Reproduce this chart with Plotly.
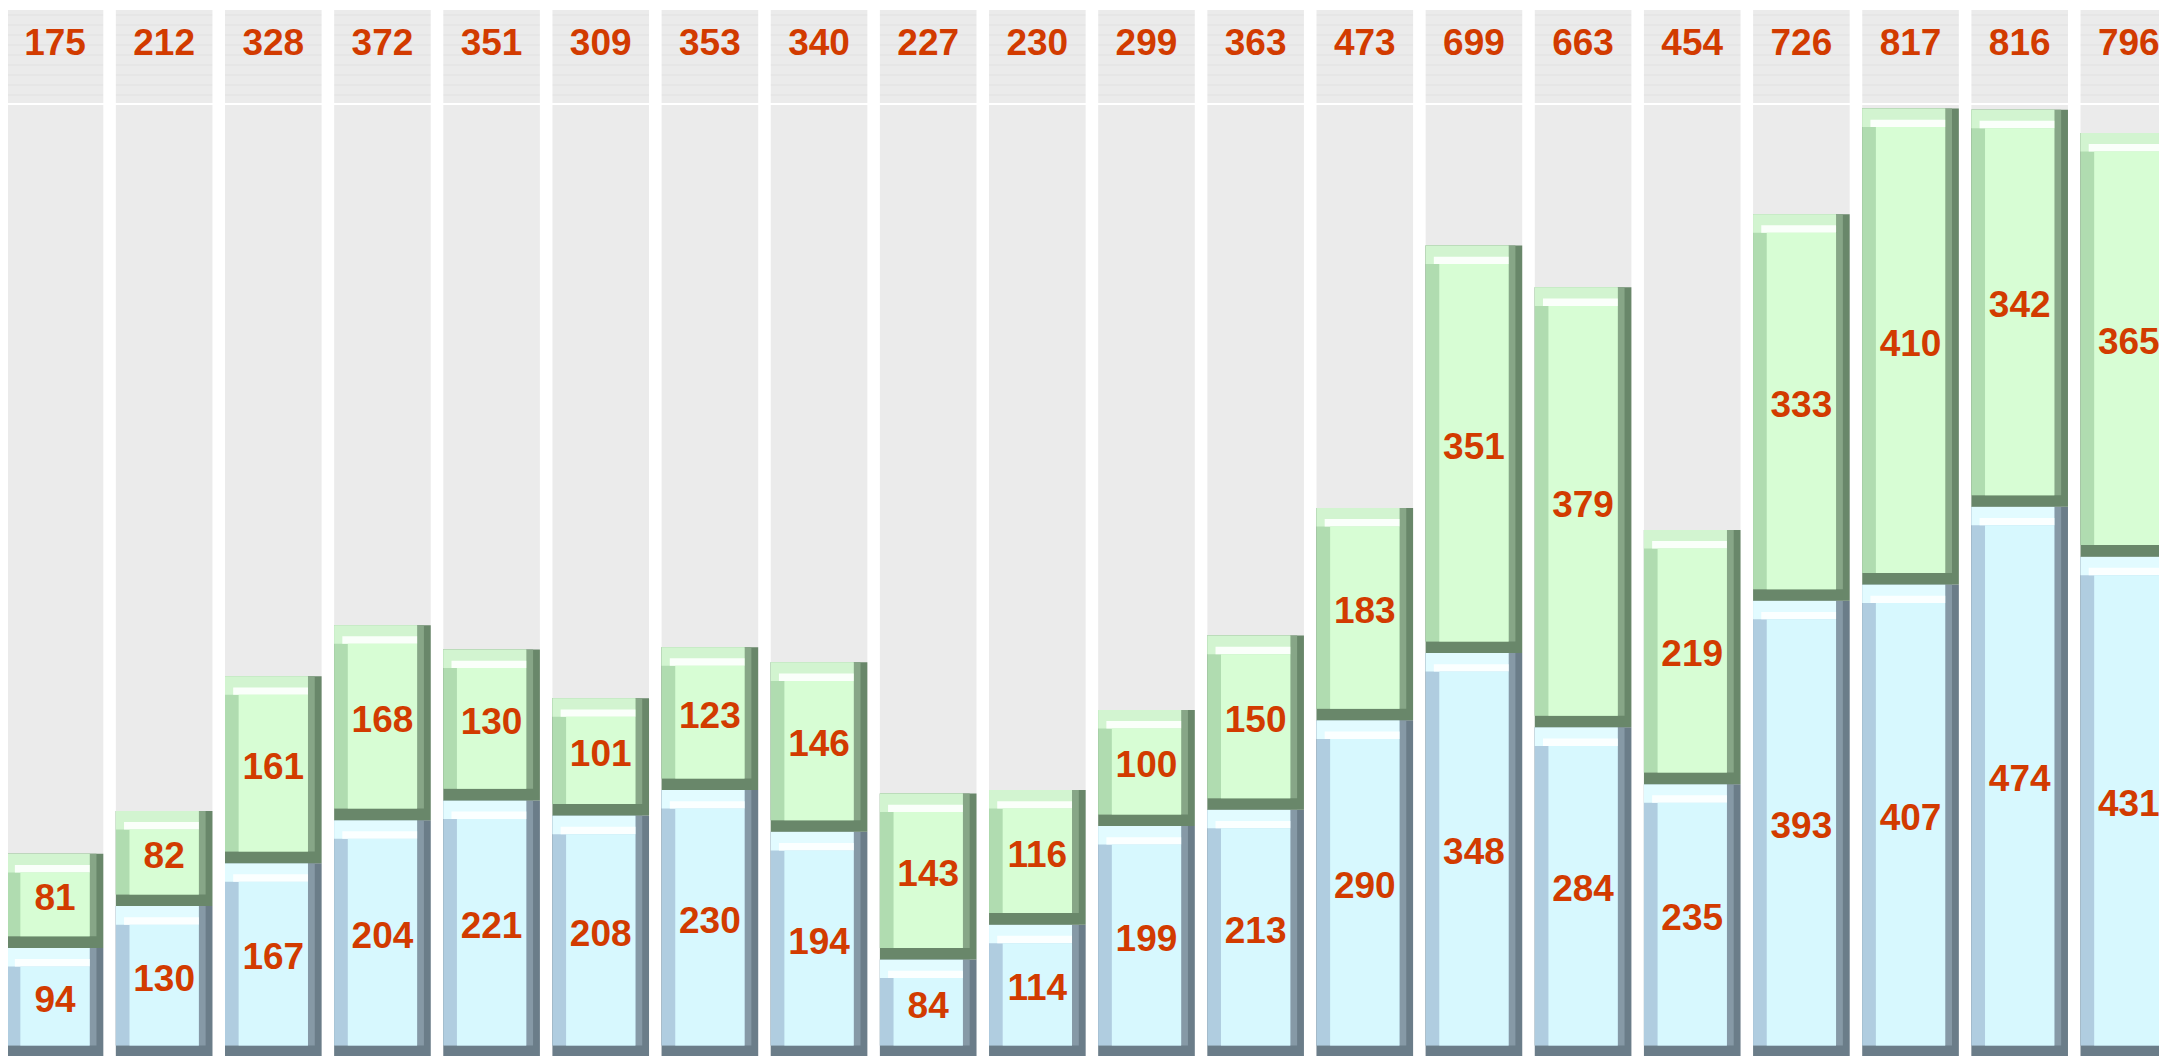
import plotly.graph_objects as go

# Data
periods = [str(i + 1) for i in range(20)]
lower_vals = [94, 130, 167, 204, 221, 208, 230, 194, 84, 114, 199, 213, 290, 348, 284, 235, 393, 407, 474, 431]
upper_vals = [81, 82, 161, 168, 130, 101, 123, 146, 143, 116, 100, 150, 183, 351, 379, 219, 333, 410, 342, 365]
totals = [175, 212, 328, 372, 351, 309, 353, 340, 227, 230, 299, 363, 473, 699, 663, 454, 726, 817, 816, 796]

panel_top = 820
label_color = '#d23b00'
label_font = dict(family='Liberation Sans, Arial', size=37, color=label_color, weight='bold')

# bar geometry (category units / value units)
W = 0.885
SIDE = 0.125
TOP_B = 16
BOT_B = 10

blue = dict(dark='#6b7d89', mid='#8699a6', left='#b0cde0', top='#e2fbff', shine='#fbffff', face='#d7f8fe')
green = dict(dark='#69876a', mid='#87a687', left='#b0dcb0', top='#d2f4d0', shine='#fafffa', face='#d7fdd4')


def bevel_bar(fig, vals, bases, pal):
    tops = [b + v for b, v in zip(bases, vals)]
    inner_base = [b + BOT_B for b in bases]
    inner_h = [v - BOT_B for v in vals]

    def layer(y, base, width, offset, color):
        fig.add_trace(go.Bar(x=periods, y=y, base=base, width=width, offset=offset,
                             marker=dict(color=color, line_width=0), hoverinfo='skip'))

    # full segment in the darkest shade (bottom + right edges)
    layer(vals, bases, W, -W / 2, pal['dark'])
    # inner part of right bevel
    layer(inner_h, inner_base, W - SIDE * 0.5, -W / 2, pal['mid'])
    # left bevel
    layer(inner_h, inner_base, W - SIDE, -W / 2, pal['left'])
    # top bevel + shine band
    layer([TOP_B] * len(vals), [t - TOP_B for t in tops], W - SIDE, -W / 2, pal['top'])
    layer([TOP_B * 0.4] * len(vals), [t - TOP_B for t in tops], W - SIDE * 1.6, -W / 2 + SIDE * 0.6, pal['shine'])
    # face
    layer([v - BOT_B - TOP_B for v in vals], inner_base, W - 2 * SIDE, -W / 2 + SIDE, pal['face'])
    # value labels
    fig.add_trace(go.Scatter(x=periods, y=[b + v / 2 for b, v in zip(bases, vals)],
                             mode='text', text=[str(v) for v in vals],
                             textfont=label_font, hoverinfo='skip'))


fig = go.Figure()

# gray panels behind the bars
fig.add_trace(go.Bar(x=periods, y=[panel_top] * len(periods), width=W, offset=-W / 2,
                     marker=dict(color='#ebebeb', line_width=0), hoverinfo='skip'))

bevel_bar(fig, lower_vals, [0] * len(lower_vals), blue)
bevel_bar(fig, upper_vals, lower_vals, green)

# header strip with totals
fig.add_trace(go.Bar(x=periods, y=[1] * len(periods), width=W, offset=-W / 2,
                     xaxis='x2', yaxis='y2',
                     marker=dict(color='#ebebeb', line_width=0,
                                 pattern=dict(shape='-', size=10, solidity=0.12,
                                              fgcolor='#d9d9d9', bgcolor='#ebebeb')),
                     hoverinfo='skip'))
fig.add_trace(go.Scatter(x=periods, y=[0.62] * len(periods), mode='text',
                         text=[str(t) for t in totals], textfont=label_font,
                         xaxis='x2', yaxis='y2', hoverinfo='skip'))

xr = [-0.4306, 19.423]
fig.update_layout(
    width=2167, height=1056,
    margin=dict(l=0, r=0, t=0, b=0),
    paper_bgcolor='white', plot_bgcolor='white',
    barmode='overlay', showlegend=False,
    xaxis=dict(range=xr, domain=[0, 1], visible=False, fixedrange=True),
    yaxis=dict(range=[0, panel_top], domain=[0.0066, 0.9081], visible=False, fixedrange=True),
    xaxis2=dict(range=xr, domain=[0, 1], visible=False, anchor='y2'),
    yaxis2=dict(range=[0, 1], domain=[0.9100, 0.9981], visible=False, anchor='x2'),
)

fig.write_html("out.html")
